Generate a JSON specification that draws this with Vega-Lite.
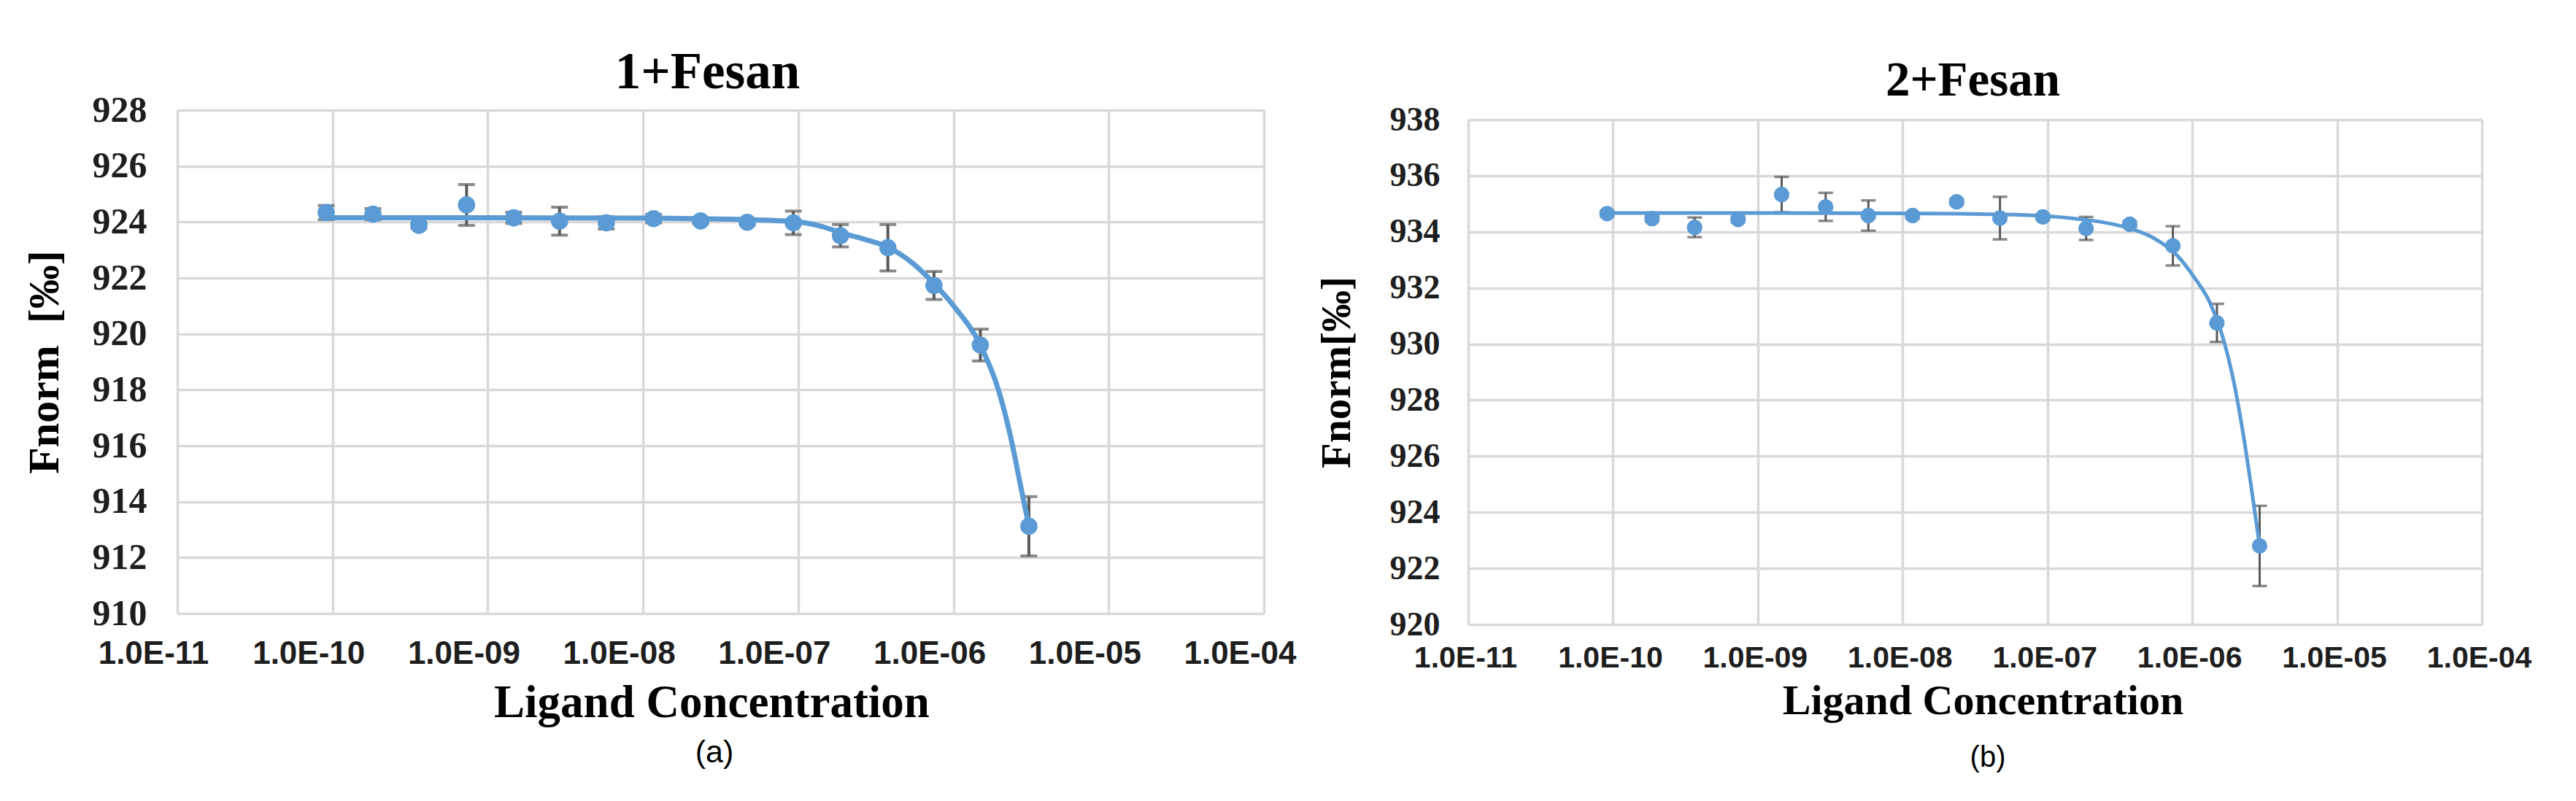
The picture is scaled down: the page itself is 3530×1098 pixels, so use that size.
{
  "$schema": "https://vega.github.io/schema/vega-lite/v6.json",
  "background": "white",
  "autosize": {"type": "pad"},
  "padding": {"left": 31, "top": 64, "right": 0, "bottom": 0},
  "config": {
    "view": {"stroke": null},
    "axis": {"domain": false, "ticks": false, "tickSize": 0, "grid": true, "gridColor": "#d9d9d9", "gridWidth": 3.5, "labelOverlap": false, "labelFlush": false, "labelBound": false}
  },
  "datasets": {
    "ptsA": [
      {"c": 9.1e-11, "f": 924.34, "e": 0.25},
      {"c": 1.82e-10, "f": 924.28, "e": 0.2},
      {"c": 3.6e-10, "f": 923.88, "e": 0.1},
      {"c": 7.3e-10, "f": 924.61, "e": 0.73},
      {"c": 1.47e-9, "f": 924.15, "e": 0.2},
      {"c": 2.9e-9, "f": 924.03, "e": 0.5},
      {"c": 5.8e-9, "f": 923.97, "e": 0.22},
      {"c": 1.17e-8, "f": 924.12, "e": 0.15},
      {"c": 2.35e-8, "f": 924.04, "e": 0.1},
      {"c": 4.7e-8, "f": 923.99, "e": 0.1},
      {"c": 9.3e-8, "f": 923.97, "e": 0.42},
      {"c": 1.87e-7, "f": 923.51, "e": 0.4},
      {"c": 3.78e-7, "f": 923.08, "e": 0.83},
      {"c": 7.49e-7, "f": 921.73, "e": 0.5},
      {"c": 1.49e-6, "f": 919.6, "e": 0.57},
      {"c": 3.06e-6, "f": 913.12, "e": 1.06}
    ],
    "fitA": [
      {"c": 9.1e-11, "f": 924.15},
      {"c": 1e-9, "f": 924.15},
      {"c": 1e-8, "f": 924.14},
      {"c": 5e-8, "f": 924.08},
      {"c": 1e-7, "f": 924.0},
      {"c": 1.5e-7, "f": 923.8},
      {"c": 1.87e-7, "f": 923.62},
      {"c": 2.68e-7, "f": 923.38},
      {"c": 3.78e-7, "f": 923.1},
      {"c": 5.51e-7, "f": 922.51},
      {"c": 7.49e-7, "f": 921.8},
      {"c": 1.02e-6, "f": 920.95},
      {"c": 1.49e-6, "f": 919.6},
      {"c": 1.95e-6, "f": 917.99},
      {"c": 2.33e-6, "f": 916.34},
      {"c": 2.7e-6, "f": 914.6},
      {"c": 3.06e-6, "f": 913.12}
    ],
    "ptsB": [
      {"c": 9.1e-11, "f": 934.65, "e": 0.1},
      {"c": 1.86e-10, "f": 934.47, "e": 0.1},
      {"c": 3.66e-10, "f": 934.16, "e": 0.35},
      {"c": 7.3e-10, "f": 934.44, "e": 0.1},
      {"c": 1.46e-9, "f": 935.33, "e": 0.63},
      {"c": 2.94e-9, "f": 934.89, "e": 0.5},
      {"c": 5.8e-9, "f": 934.58, "e": 0.54},
      {"c": 1.17e-8, "f": 934.58, "e": 0.1},
      {"c": 2.36e-8, "f": 935.07, "e": 0.1},
      {"c": 4.7e-8, "f": 934.49, "e": 0.76},
      {"c": 9.3e-8, "f": 934.53, "e": 0.1},
      {"c": 1.85e-7, "f": 934.12, "e": 0.41},
      {"c": 3.7e-7, "f": 934.27, "e": 0.1},
      {"c": 7.35e-7, "f": 933.5, "e": 0.7},
      {"c": 1.48e-6, "f": 930.75, "e": 0.68},
      {"c": 2.92e-6, "f": 922.8, "e": 1.43}
    ],
    "fitB": [
      {"c": 9.1e-11, "f": 934.67},
      {"c": 1e-9, "f": 934.67},
      {"c": 1e-8, "f": 934.66},
      {"c": 5e-8, "f": 934.62},
      {"c": 1e-7, "f": 934.56},
      {"c": 1.69e-7, "f": 934.45},
      {"c": 2.49e-7, "f": 934.33},
      {"c": 3.67e-7, "f": 934.13},
      {"c": 5.41e-7, "f": 933.78},
      {"c": 7.96e-7, "f": 933.13},
      {"c": 1.04e-6, "f": 932.35},
      {"c": 1.32e-6, "f": 931.49},
      {"c": 1.6e-6, "f": 930.36},
      {"c": 1.94e-6, "f": 928.63},
      {"c": 2.26e-6, "f": 926.72},
      {"c": 2.54e-6, "f": 924.99},
      {"c": 2.92e-6, "f": 922.8}
    ],
    "none": []
  },
  "spacing": 26,
  "hconcat": [
    {
      "title": {"text": "(a)", "orient": "bottom", "anchor": "middle", "frame": "group", "font": "Liberation Sans", "fontSize": 43, "fontWeight": "normal", "color": "black", "offset": 16, "dx": 736},
      "vconcat": [
        {
          "width": 1489,
          "height": 690,
          "title": {"text": "1+Fesan", "font": "Liberation Serif", "fontSize": 71, "fontWeight": "bold", "color": "black", "offset": -10, "dx": -18},
          "layer": [
            {
              "data": {"name": "ptsA"},
              "mark": {"type": "errorbar", "color": "#595959", "rule": {"strokeWidth": 4, "color": "#595959"}, "ticks": {"size": 23, "thickness": 4, "color": "#595959"}},
              "encoding": {
                "x": {"field": "c", "type": "quantitative", "scale": {"type": "log", "domain": [1e-11, 1e-4], "nice": false},
                  "axis": {"values": [1e-11, 1e-10, 1e-9, 1e-8, 1e-7, 1e-6, 1e-5, 1e-4],
                    "labelExpr": "'1.0E-' + (round(-log(datum.value)/LN10) < 10 ? '0' : '') + round(-log(datum.value)/LN10)",
                    "labelFont": "Liberation Sans", "labelFontWeight": "bold", "labelFontSize": 44, "labelColor": "#1e1e1e", "labelPadding": 33, "labelOffset": -33,
                    "title": "Ligand Concentration", "titleFont": "Liberation Serif", "titleFontSize": 63, "titleFontWeight": "bold", "titleColor": "black", "titlePadding": 14, "titleX": 732}},
                "y": {"field": "f", "type": "quantitative", "scale": {"domain": [910, 928], "nice": false, "zero": false},
                  "axis": {"values": [910, 912, 914, 916, 918, 920, 922, 924, 926, 928],
                    "labelFont": "Liberation Serif", "labelFontWeight": "bold", "labelFontSize": 50, "labelColor": "#1e1e1e", "labelPadding": 42,
                    "title": "Fnorm\u00a0\u00a0[‰]", "titleFont": "Liberation Serif", "titleFontSize": 60, "titleFontWeight": "bold", "titleColor": "black", "titlePadding": 34}},
                "yError": {"field": "e"}
              }
            },
            {
              "data": {"name": "fitA"},
              "mark": {"type": "line", "color": "#5b9bd5", "strokeWidth": 7, "interpolate": "monotone"},
              "encoding": {
                "x": {"field": "c", "type": "quantitative"},
                "y": {"field": "f", "type": "quantitative"}
              }
            },
            {
              "data": {"name": "ptsA"},
              "mark": {"type": "circle", "color": "#5b9bd5", "opacity": 1, "size": 560},
              "encoding": {
                "x": {"field": "c", "type": "quantitative"},
                "y": {"field": "f", "type": "quantitative"}
              }
            }
          ]
        }
      ]
    },
    {
      "title": {"text": "(b)", "orient": "bottom", "anchor": "middle", "frame": "group", "font": "Liberation Sans", "fontSize": 40, "fontWeight": "normal", "color": "black", "offset": 29, "dx": 712},
      "bounds": "flush",
      "spacing": 12,
      "vconcat": [
        {
          "width": 1389,
          "height": 1,
          "title": {"text": "2+Fesan", "font": "Liberation Serif", "fontSize": 67, "fontWeight": "bold", "color": "black", "offset": 6, "dx": -3},
          "data": {"name": "none"},
          "mark": {"type": "point", "opacity": 0},
          "encoding": {}
        },
        {
          "width": 1389,
          "height": 692,
          "layer": [
            {
              "data": {"name": "ptsB"},
              "mark": {"type": "errorbar", "color": "#595959", "rule": {"strokeWidth": 3, "color": "#595959"}, "ticks": {"size": 20, "thickness": 3.5, "color": "#595959"}},
              "encoding": {
                "x": {"field": "c", "type": "quantitative", "scale": {"type": "log", "domain": [1e-11, 1e-4], "nice": false},
                  "axis": {"values": [1e-11, 1e-10, 1e-9, 1e-8, 1e-7, 1e-6, 1e-5, 1e-4],
                    "labelExpr": "'1.0E-' + (round(-log(datum.value)/LN10) < 10 ? '0' : '') + round(-log(datum.value)/LN10)",
                    "labelFont": "Liberation Sans", "labelFontWeight": "bold", "labelFontSize": 41, "labelColor": "#1e1e1e", "labelPadding": 26, "labelOffset": -4,
                    "title": "Ligand Concentration", "titleFont": "Liberation Serif", "titleFontSize": 58, "titleFontWeight": "bold", "titleColor": "black", "titlePadding": 10, "titleX": 705}},
                "y": {"field": "f", "type": "quantitative", "scale": {"domain": [920, 938], "nice": false, "zero": false},
                  "axis": {"values": [920, 922, 924, 926, 928, 930, 932, 934, 936, 938],
                    "labelFont": "Liberation Serif", "labelFontWeight": "bold", "labelFontSize": 46, "labelColor": "#1e1e1e", "labelPadding": 39,
                    "title": "Fnorm[‰]", "titleFont": "Liberation Serif", "titleFontSize": 57, "titleFontWeight": "bold", "titleColor": "black", "titlePadding": 43}},
                "yError": {"field": "e"}
              }
            },
            {
              "data": {"name": "fitB"},
              "mark": {"type": "line", "color": "#5b9bd5", "strokeWidth": 5, "interpolate": "monotone"},
              "encoding": {
                "x": {"field": "c", "type": "quantitative"},
                "y": {"field": "f", "type": "quantitative"}
              }
            },
            {
              "data": {"name": "ptsB"},
              "mark": {"type": "circle", "color": "#5b9bd5", "opacity": 1, "size": 450},
              "encoding": {
                "x": {"field": "c", "type": "quantitative"},
                "y": {"field": "f", "type": "quantitative"}
              }
            }
          ]
        }
      ]
    }
  ]
}
